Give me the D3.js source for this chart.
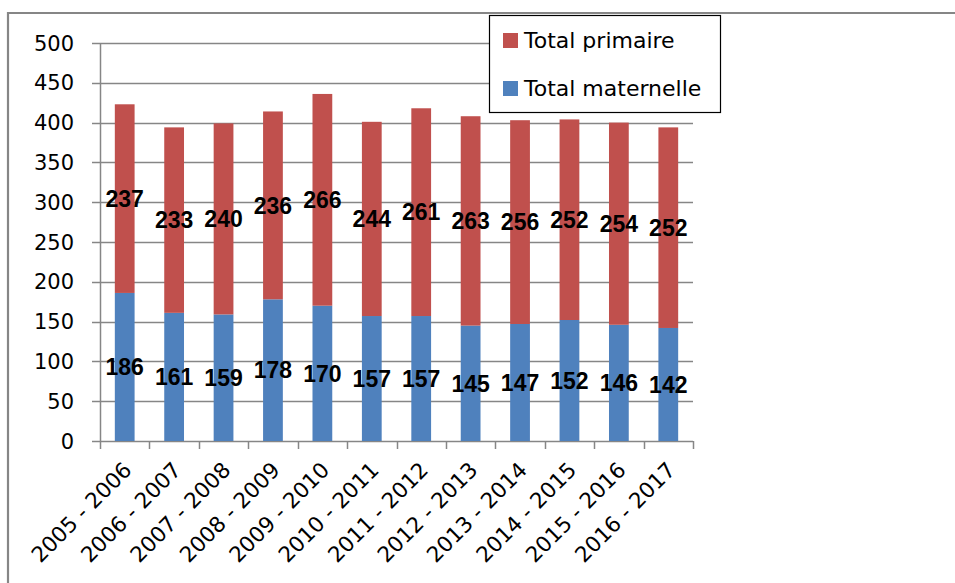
<!DOCTYPE html>
<html>
<head>
<meta charset="utf-8">
<script src="https://cdn.jsdelivr.net/npm/d3@7"></script>
<style>
  body { margin: 0; background: #fff; }
  svg { display: block; font-family: "DejaVu Sans", sans-serif; }
</style>
</head>
<body>
<div id="chart"></div>
<script>
const width = 955;
const height = 583;

const years = ["2005 - 2006", "2006 - 2007", "2007 - 2008", "2008 - 2009", "2009 - 2010", "2010 - 2011",
  "2011 - 2012", "2012 - 2013", "2013 - 2014", "2014 - 2015", "2015 - 2016", "2016 - 2017"];
const maternelle = [186, 161, 159, 178, 170, 157, 157, 145, 147, 152, 146, 142];
const primaire = [237, 233, 240, 236, 266, 244, 261, 263, 256, 252, 254, 252];
const yTicks = [0, 50, 100, 150, 200, 250, 300, 350, 400, 450, 500];

const seriesNames = ["Total maternelle", "Total primaire"];
const colors = { "Total maternelle": "#4F81BD", "Total primaire": "#C0504D" };

const rows = years.map((y, i) => ({ year: y, "Total maternelle": maternelle[i], "Total primaire": primaire[i] }));
const stacked = d3.stack().keys(seriesNames)(rows);

const plot = { left: 100, right: 693, top: 43, bottom: 441 };

const svg = d3.select("#chart").append("svg")
  .attr("width", width)
  .attr("height", height);

// chart area border (only top and left visible)
svg.append("path")
  .attr("d", `M8,${height + 2}V13H${width + 2}`)
  .attr("fill", "none")
  .attr("stroke", "#868686")
  .attr("stroke-width", 2.2);

const x = d3.scaleBand()
  .domain(years)
  .range([plot.left, plot.right])
  .paddingInner(0.6)
  .paddingOuter(0.3);

const y = d3.scaleLinear()
  .domain([0, 500])
  .range([plot.bottom, plot.top]);

// gridlines
svg.append("g")
  .selectAll("line")
  .data(yTicks)
  .join("line")
  .attr("x1", plot.left - 8)
  .attr("x2", plot.right)
  .attr("y1", d => Math.round(y(d)) + 0.5)
  .attr("y2", d => Math.round(y(d)) + 0.5)
  .attr("stroke", "#868686")
  .attr("stroke-width", 1.5);

// y labels
svg.append("g")
  .selectAll("text")
  .data(yTicks)
  .join("text")
  .attr("x", 74)
  .attr("y", d => y(d))
  .attr("dy", "0.36em")
  .attr("text-anchor", "end")
  .attr("font-size", 21)
  .attr("fill", "#000")
  .text(d => d);

// bars
svg.append("g")
  .selectAll("g")
  .data(stacked)
  .join("g")
  .attr("fill", d => colors[d.key])
  .selectAll("rect")
  .data(d => d)
  .join("rect")
  .attr("x", d => x(d.data.year))
  .attr("width", x.bandwidth())
  .attr("y", d => y(d[1]))
  .attr("height", d => y(d[0]) - y(d[1]));

// y axis line
svg.append("line")
  .attr("x1", plot.left + 0.5).attr("x2", plot.left + 0.5)
  .attr("y1", plot.top).attr("y2", plot.bottom)
  .attr("stroke", "#868686")
  .attr("stroke-width", 1.5);

// x tick marks at band edges
const edges = d3.range(years.length + 1).map(i => plot.left + i * (plot.right - plot.left) / years.length);
svg.append("g")
  .selectAll("line")
  .data(edges)
  .join("line")
  .attr("x1", d => Math.round(d) + 0.5)
  .attr("x2", d => Math.round(d) + 0.5)
  .attr("y1", plot.bottom)
  .attr("y2", plot.bottom + 8)
  .attr("stroke", "#868686")
  .attr("stroke-width", 1.5);

// x labels
svg.append("g")
  .selectAll("text")
  .data(years)
  .join("text")
  .attr("transform", d => `translate(${x(d) + x.bandwidth() / 2 + 3},${plot.bottom + 25}) rotate(-45)`)
  .attr("text-anchor", "end")
  .attr("dy", "0.35em")
  .attr("font-size", 21.5)
  .attr("fill", "#000")
  .text(d => d);

// data labels
svg.append("g")
  .selectAll("g")
  .data(stacked)
  .join("g")
  .selectAll("text")
  .data(d => d.map(v => ({ v: v, val: v[1] - v[0] })))
  .join("text")
  .attr("x", d => x(d.v.data.year) + x.bandwidth() / 2)
  .attr("y", d => y((d.v[0] + d.v[1]) / 2))
  .attr("dy", "0.36em")
  .attr("text-anchor", "middle")
  .attr("font-family", "'Liberation Sans', sans-serif")
  .attr("font-size", 23)
  .attr("font-weight", "bold")
  .attr("fill", "#000")
  .text(d => d.val);

// legend
const legend = svg.append("g");
legend.append("rect")
  .attr("x", 489.5).attr("y", 15.5)
  .attr("width", 231).attr("height", 97)
  .attr("fill", "#fff")
  .attr("stroke", "#000")
  .attr("stroke-width", 1.2);

const legendItems = ["Total primaire", "Total maternelle"];
legendItems.forEach((name, i) => {
  const cy = 40 + i * 48;
  legend.append("rect")
    .attr("x", 503).attr("y", cy - 7)
    .attr("width", 15).attr("height", 15)
    .attr("fill", colors[name]);
  legend.append("text")
    .attr("x", 524).attr("y", cy)
    .attr("dy", "0.36em")
    .attr("font-size", 22)
    .attr("fill", "#000")
    .text(name);
});
</script>
</body>
</html>
